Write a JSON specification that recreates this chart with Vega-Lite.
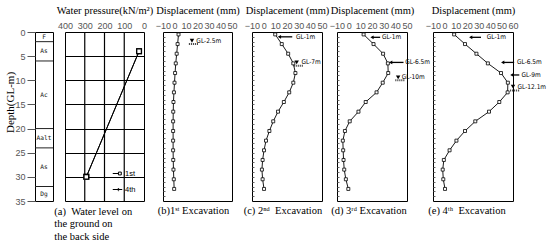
{
  "$schema": "https://vega.github.io/schema/vega-lite/v6.json",
  "padding": {"left": 3, "top": 4, "right": 0, "bottom": 2},
  "datasets": {
    "soil": [
      {"layer": "F", "top": 0, "bottom": 2},
      {"layer": "As", "top": 2, "bottom": 6},
      {"layer": "Ac", "top": 6, "bottom": 20},
      {"layer": "Aalt", "top": 20, "bottom": 24},
      {"layer": "As", "top": 24, "bottom": 32},
      {"layer": "Dg", "top": 32, "bottom": 35}
    ],
    "pgrid": [{"pressure": 100}, {"pressure": 200}, {"pressure": 300}],
    "pressure": [
      {"series": "1st", "depth": 4, "pressure": 25},
      {"series": "1st", "depth": 30, "pressure": 292},
      {"series": "4th", "depth": 4, "pressure": 25},
      {"series": "4th", "depth": 30, "pressure": 292}
    ],
    "disp": [
      {"panel": "b", "depth": 0.5, "disp": 3.5}, {"panel": "b", "depth": 2.5, "disp": 2.7}, {"panel": "b", "depth": 4.5, "disp": 1.9}, {"panel": "b", "depth": 6.5, "disp": 1.1}, {"panel": "b", "depth": 8.5, "disp": 0.5}, {"panel": "b", "depth": 10.5, "disp": 0}, {"panel": "b", "depth": 12.5, "disp": -0.5}, {"panel": "b", "depth": 14.5, "disp": -0.9}, {"panel": "b", "depth": 16.5, "disp": -1.1}, {"panel": "b", "depth": 18.5, "disp": -1.2}, {"panel": "b", "depth": 20.5, "disp": -1.2}, {"panel": "b", "depth": 22.5, "disp": -1.2}, {"panel": "b", "depth": 24.5, "disp": -1.2}, {"panel": "b", "depth": 26.5, "disp": -1.1}, {"panel": "b", "depth": 28.5, "disp": -0.9}, {"panel": "b", "depth": 30.5, "disp": -0.6}, {"panel": "b", "depth": 32.5, "disp": -0.3},
      {"panel": "c", "depth": 0.5, "disp": 9.9}, {"panel": "c", "depth": 2.5, "disp": 15.5}, {"panel": "c", "depth": 4.5, "disp": 21}, {"panel": "c", "depth": 6.5, "disp": 25.4}, {"panel": "c", "depth": 8.5, "disp": 27.2}, {"panel": "c", "depth": 10.5, "disp": 25.4}, {"panel": "c", "depth": 12.5, "disp": 21.9}, {"panel": "c", "depth": 14.5, "disp": 17.3}, {"panel": "c", "depth": 16.5, "disp": 12.3}, {"panel": "c", "depth": 18.5, "disp": 8.2}, {"panel": "c", "depth": 20.5, "disp": 4.9}, {"panel": "c", "depth": 22.5, "disp": 2}, {"panel": "c", "depth": 24.5, "disp": 0.3}, {"panel": "c", "depth": 26.5, "disp": -0.9}, {"panel": "c", "depth": 28.5, "disp": -1.5}, {"panel": "c", "depth": 30.5, "disp": -0.9}, {"panel": "c", "depth": 32.5, "disp": 0.3},
      {"panel": "d", "depth": 0.5, "disp": 12.8}, {"panel": "d", "depth": 2.5, "disp": 21.3}, {"panel": "d", "depth": 4.5, "disp": 29.5}, {"panel": "d", "depth": 6.5, "disp": 33.6}, {"panel": "d", "depth": 8.5, "disp": 33.9}, {"panel": "d", "depth": 10.5, "disp": 29.2}, {"panel": "d", "depth": 12.5, "disp": 23.9}, {"panel": "d", "depth": 14.5, "disp": 14.6}, {"panel": "d", "depth": 16.5, "disp": 8.4}, {"panel": "d", "depth": 18.5, "disp": 0.9}, {"panel": "d", "depth": 20.5, "disp": -3.2}, {"panel": "d", "depth": 22.5, "disp": -5}, {"panel": "d", "depth": 24.5, "disp": -4.7}, {"panel": "d", "depth": 26.5, "disp": -4.4}, {"panel": "d", "depth": 28.5, "disp": -3.8}, {"panel": "d", "depth": 30.5, "disp": -2.4}, {"panel": "d", "depth": 32.5, "disp": -0.3},
      {"panel": "e", "depth": 0.5, "disp": 8.5}, {"panel": "e", "depth": 2.5, "disp": 18}, {"panel": "e", "depth": 4.5, "disp": 28}, {"panel": "e", "depth": 6.5, "disp": 38}, {"panel": "e", "depth": 8.5, "disp": 49.5}, {"panel": "e", "depth": 10.5, "disp": 55.5}, {"panel": "e", "depth": 12.5, "disp": 55.3}, {"panel": "e", "depth": 14.5, "disp": 48}, {"panel": "e", "depth": 16.5, "disp": 39}, {"panel": "e", "depth": 18.5, "disp": 27}, {"panel": "e", "depth": 20.5, "disp": 18}, {"panel": "e", "depth": 22.5, "disp": 10.5}, {"panel": "e", "depth": 24.5, "disp": 4.5}, {"panel": "e", "depth": 26.5, "disp": -0.5}, {"panel": "e", "depth": 28.5, "disp": -1.5}, {"panel": "e", "depth": 30.5, "disp": -1}, {"panel": "e", "depth": 32.5, "disp": 0.5}
    ],
    "arrows": [
      {"panel": "c", "depth": 1.0, "tip": 13.5, "tail": 24.5},
      {"panel": "d", "depth": 1.1, "tip": 20, "tail": 27},
      {"panel": "d", "depth": 6.3, "tip": 36, "tail": 47},
      {"panel": "e", "depth": 1.1, "tip": 23, "tail": 32},
      {"panel": "e", "depth": 6.3, "tip": 51, "tail": 61},
      {"panel": "e", "depth": 8.9, "tip": 59, "tail": 65.5}
    ],
    "levels": [
      {"panel": "b", "depth": 2.5, "tri": 1.8, "at": 15.2, "h1": 12.5, "h2": 21},
      {"panel": "c", "depth": 7, "tri": 6.3, "at": 28.3, "h1": 25.8, "h2": 34},
      {"panel": "d", "depth": 10, "tri": 9.4, "at": 42.4, "h1": 40, "h2": 48},
      {"panel": "e", "depth": 12.1, "tri": 11.3, "at": 60, "h1": 57.5, "h2": 66}
    ],
    "labels": [
      {"panel": "b", "depth": 1.8, "x": 19, "text": "GL-2.5m"},
      {"panel": "c", "depth": 1.0, "x": 27.7, "text": "GL-1m"},
      {"panel": "c", "depth": 6.3, "x": 32.5, "text": "GL-7m"},
      {"panel": "d", "depth": 1.1, "x": 28.5, "text": "GL-1m"},
      {"panel": "d", "depth": 6.3, "x": 48.5, "text": "GL-6.5m"},
      {"panel": "d", "depth": 9.4, "x": 45.5, "text": "GL-10m"},
      {"panel": "e", "depth": 1.1, "x": 37, "text": "GL-1m"},
      {"panel": "e", "depth": 6.3, "x": 63.5, "text": "GL-6.5m"},
      {"panel": "e", "depth": 8.9, "x": 67.5, "text": "GL-9m"},
      {"panel": "e", "depth": 11.3, "x": 64, "text": "GL-12.1m"}
    ]
  },
  "spacing": 0,
  "bounds": "flush",
  "resolve": {"scale": {"shape": "independent"}, "legend": {"shape": "independent"}},
  "hconcat": [
    {
      "width": 18, "height": 169,
      "data": {"name": "soil"},
      "layer": [
        {
          "transform": [{"filter": "datum.bottom < 35"}],
          "mark": {"type": "rule", "color": "#222", "strokeWidth": 1},
          "encoding": {
            "y": {"field": "bottom", "type": "quantitative",
              "scale": {"domain": [0, 35], "reverse": true, "nice": false, "zero": false},
              "axis": {"title": "Depth(GL-m)", "values": [0, 5, 10, 15, 20, 25, 30, 35], "format": "d", "tickCount": 50, "ticks": true, "tickSize": 8, "tickColor": "#555", "labelPadding": 2, "labelFlush": false, "labelOverlap": false, "titleFontSize": 11, "titleX": -20, "titleY": 70}}
          }
        },
        {
          "transform": [{"calculate": "(datum.top + datum.bottom) / 2", "as": "mid"}],
          "mark": {"type": "text", "font": "DejaVu Sans Mono", "fontSize": 6.2, "color": "#111"},
          "encoding": {
            "y": {"field": "mid", "type": "quantitative"},
            "text": {"field": "layer"}
          }
        }
      ]
    },
    {"width": 12, "height": 169, "view": {"stroke": null}, "data": {"values": [{}]}, "mark": {"type": "point", "opacity": 0}, "encoding": {}},
    {
      "width": 79, "height": 169,
      "title": {"text": ["(a)\u00a0\u00a0Water level on", "\u00a0\u00a0\u00a0\u00a0\u00a0\u00a0the ground on", "\u00a0\u00a0\u00a0\u00a0\u00a0\u00a0the back side"], "anchor": "start", "dx": -2},
      "layer": [
        {
          "data": {"name": "pgrid"},
          "mark": {"type": "rule", "color": "black", "strokeWidth": 1.2},
          "encoding": {
            "x": {"field": "pressure", "type": "quantitative",
              "scale": {"domain": [0, 400], "reverse": true, "nice": false, "zero": false},
              "axis": {"orient": "top", "title": "Water pressure(kN/m²)", "values": [0, 100, 200, 300, 400], "format": "d", "tickCount": 50, "labelFlush": false, "labelOverlap": false}},
            "y": {"datum": 0, "type": "quantitative"},
            "y2": {"datum": 35}
          }
        },
        {
          "data": {"name": "pressure"},
          "mark": {"type": "line", "color": "black", "strokeWidth": 1},
          "encoding": {
            "x": {"field": "pressure", "type": "quantitative"},
            "y": {"field": "depth", "type": "quantitative",
              "scale": {"domain": [0, 35], "reverse": true, "nice": false, "zero": false},
              "axis": {"title": null, "labels": false, "grid": true, "gridColor": "black", "gridWidth": 1, "values": [5, 10, 15, 20, 25, 30], "tickCount": 50}},
            "detail": {"field": "series"},
            "order": {"field": "depth"}
          }
        },
        {
          "data": {"name": "pressure"},
          "mark": {"type": "point", "shape": "square", "filled": true, "fill": "white", "stroke": "black", "strokeWidth": 1.3, "size": 22, "opacity": 1},
          "encoding": {
            "x": {"field": "pressure", "type": "quantitative"},
            "y": {"field": "depth", "type": "quantitative"}
          }
        },
        {
          "data": {"name": "pressure"},
          "mark": {"type": "point", "filled": false, "stroke": "black", "strokeWidth": 1, "opacity": 0},
          "encoding": {
            "x": {"field": "pressure", "type": "quantitative"},
            "y": {"field": "depth", "type": "quantitative"},
            "shape": {"field": "series", "type": "nominal",
              "scale": {"domain": ["1st", "4th"], "range": ["M-1,0H0.2M0.2,-0.3H0.8V0.3H0.2Z", "M-1,0H1M0.2,-0.25L0.45,0L0.2,0.25L-0.05,0Z"]},
              "legend": {"orient": "bottom-right", "title": null, "offset": 8, "padding": 0, "labelFont": "Liberation Sans", "labelFontSize": 7.5, "labelColor": "black", "labelOffset": 2, "symbolSize": 90, "symbolStrokeWidth": 1, "symbolOpacity": 1, "symbolStrokeColor": "black", "rowPadding": 7}}
          }
        }
      ]
    },
    {"width": 19, "height": 169, "view": {"stroke": null}, "data": {"values": [{}]}, "mark": {"type": "point", "opacity": 0}, "encoding": {}},
    {
      "width": 69, "height": 169,
      "title": {"text": "(b)1ˢᵗ Excavation", "dx": -4},
      "layer": [
        {
          "data": {"name": "disp"}, "transform": [{"filter": "datum.panel === 'b'"}],
          "mark": {"type": "line", "color": "black", "strokeWidth": 0.9, "point": {"shape": "square", "filled": true, "fill": "white", "stroke": "black", "strokeWidth": 0.8, "size": 9}},
          "encoding": {
            "x": {"field": "disp", "type": "quantitative", "scale": {"domain": [-10, 50], "nice": false, "zero": false},
              "axis": {"orient": "top", "title": "Displacement (mm)", "values": [-10, 0, 10, 20, 30, 40, 50], "format": "d", "tickCount": 50, "labelFlush": false, "labelOverlap": false}},
            "y": {"field": "depth", "type": "quantitative", "scale": {"domain": [0, 35], "reverse": true, "nice": false, "zero": false},
              "axis": {"title": null, "labels": false, "ticks": true, "tickSize": -2, "tickColor": "#666", "tickCount": 50, "values": [1,2,3,4,5,6,7,8,9,10,11,12,13,14,15,16,17,18,19,20,21,22,23,24,25,26,27,28,29,30,31,32,33,34]}},
            "order": {"field": "depth"}
          }
        },
        {
          "data": {"name": "levels"}, "transform": [{"filter": "datum.panel === 'b'"}],
          "mark": {"type": "point", "shape": "triangle-down", "filled": true, "color": "black", "size": 20, "opacity": 1},
          "encoding": {"x": {"field": "at", "type": "quantitative"}, "y": {"field": "tri", "type": "quantitative"}}
        },
        {
          "data": {"name": "levels"}, "transform": [{"filter": "datum.panel === 'b'"}],
          "mark": {"type": "rule", "strokeWidth": 2, "strokeDash": [1, 1], "color": "#333"},
          "encoding": {"x": {"field": "h1", "type": "quantitative"}, "x2": {"field": "h2"}, "y": {"field": "depth", "type": "quantitative"}}
        },
        {
          "data": {"name": "labels"}, "transform": [{"filter": "datum.panel === 'b'"}],
          "mark": {"type": "text", "align": "left", "baseline": "middle", "font": "Liberation Sans Narrow, DejaVu Sans Condensed, Liberation Sans", "fontSize": 6.5, "color": "black"},
          "encoding": {"x": {"field": "x", "type": "quantitative"}, "y": {"field": "depth", "type": "quantitative"}, "text": {"field": "text"}}
        }
      ]
    },
    {"width": 20, "height": 169, "view": {"stroke": null}, "data": {"values": [{}]}, "mark": {"type": "point", "opacity": 0}, "encoding": {}},
    {
      "width": 70, "height": 169,
      "title": {"text": "(c) 2ⁿᵈ\u00a0\u00a0Excavation", "dx": -4},
      "layer": [
        {
          "data": {"name": "disp"}, "transform": [{"filter": "datum.panel === 'c'"}],
          "mark": {"type": "line", "color": "black", "strokeWidth": 0.9, "point": {"shape": "square", "filled": true, "fill": "white", "stroke": "black", "strokeWidth": 0.8, "size": 9}},
          "encoding": {
            "x": {"field": "disp", "type": "quantitative", "scale": {"domain": [-10, 50], "nice": false, "zero": false},
              "axis": {"orient": "top", "title": "Displacement (mm)", "values": [-10, 0, 10, 20, 30, 40, 50], "format": "d", "tickCount": 50, "labelFlush": false, "labelOverlap": false}},
            "y": {"field": "depth", "type": "quantitative", "scale": {"domain": [0, 35], "reverse": true, "nice": false, "zero": false},
              "axis": {"title": null, "labels": false, "ticks": true, "tickSize": -2, "tickColor": "#666", "tickCount": 50, "values": [1,2,3,4,5,6,7,8,9,10,11,12,13,14,15,16,17,18,19,20,21,22,23,24,25,26,27,28,29,30,31,32,33,34]}},
            "order": {"field": "depth"}
          }
        },
        {
          "data": {"name": "arrows"}, "transform": [{"filter": "datum.panel === 'c'"}],
          "mark": {"type": "rule", "color": "black", "strokeWidth": 1.3},
          "encoding": {"x": {"field": "tip", "type": "quantitative"}, "x2": {"field": "tail"}, "y": {"field": "depth", "type": "quantitative"}}
        },
        {
          "data": {"name": "arrows"}, "transform": [{"filter": "datum.panel === 'c'"}],
          "mark": {"type": "point", "shape": "triangle-left", "filled": true, "color": "black", "size": 14, "opacity": 1},
          "encoding": {"x": {"field": "tip", "type": "quantitative"}, "y": {"field": "depth", "type": "quantitative"}}
        },
        {
          "data": {"name": "levels"}, "transform": [{"filter": "datum.panel === 'c'"}],
          "mark": {"type": "point", "shape": "triangle-down", "filled": true, "color": "black", "size": 20, "opacity": 1},
          "encoding": {"x": {"field": "at", "type": "quantitative"}, "y": {"field": "tri", "type": "quantitative"}}
        },
        {
          "data": {"name": "levels"}, "transform": [{"filter": "datum.panel === 'c'"}],
          "mark": {"type": "rule", "strokeWidth": 2, "strokeDash": [1, 1], "color": "#333"},
          "encoding": {"x": {"field": "h1", "type": "quantitative"}, "x2": {"field": "h2"}, "y": {"field": "depth", "type": "quantitative"}}
        },
        {
          "data": {"name": "labels"}, "transform": [{"filter": "datum.panel === 'c'"}],
          "mark": {"type": "text", "align": "left", "baseline": "middle", "font": "Liberation Sans Narrow, DejaVu Sans Condensed, Liberation Sans", "fontSize": 6.5, "color": "black"},
          "encoding": {"x": {"field": "x", "type": "quantitative"}, "y": {"field": "depth", "type": "quantitative"}, "text": {"field": "text"}}
        }
      ]
    },
    {"width": 15, "height": 169, "view": {"stroke": null}, "data": {"values": [{}]}, "mark": {"type": "point", "opacity": 0}, "encoding": {}},
    {
      "width": 70, "height": 169,
      "title": {"text": "(d) 3ʳᵈ Excavation", "dx": -3},
      "layer": [
        {
          "data": {"name": "disp"}, "transform": [{"filter": "datum.panel === 'd'"}],
          "mark": {"type": "line", "color": "black", "strokeWidth": 0.9, "point": {"shape": "square", "filled": true, "fill": "white", "stroke": "black", "strokeWidth": 0.8, "size": 9}},
          "encoding": {
            "x": {"field": "disp", "type": "quantitative", "scale": {"domain": [-10, 50], "nice": false, "zero": false},
              "axis": {"orient": "top", "title": "Displacement (mm)", "values": [-10, 0, 10, 20, 30, 40, 50], "format": "d", "tickCount": 50, "labelFlush": false, "labelOverlap": false}},
            "y": {"field": "depth", "type": "quantitative", "scale": {"domain": [0, 35], "reverse": true, "nice": false, "zero": false},
              "axis": {"title": null, "labels": false, "ticks": true, "tickSize": -2, "tickColor": "#666", "tickCount": 50, "values": [1,2,3,4,5,6,7,8,9,10,11,12,13,14,15,16,17,18,19,20,21,22,23,24,25,26,27,28,29,30,31,32,33,34]}},
            "order": {"field": "depth"}
          }
        },
        {
          "data": {"name": "arrows"}, "transform": [{"filter": "datum.panel === 'd'"}],
          "mark": {"type": "rule", "color": "black", "strokeWidth": 1.3},
          "encoding": {"x": {"field": "tip", "type": "quantitative"}, "x2": {"field": "tail"}, "y": {"field": "depth", "type": "quantitative"}}
        },
        {
          "data": {"name": "arrows"}, "transform": [{"filter": "datum.panel === 'd'"}],
          "mark": {"type": "point", "shape": "triangle-left", "filled": true, "color": "black", "size": 14, "opacity": 1},
          "encoding": {"x": {"field": "tip", "type": "quantitative"}, "y": {"field": "depth", "type": "quantitative"}}
        },
        {
          "data": {"name": "levels"}, "transform": [{"filter": "datum.panel === 'd'"}],
          "mark": {"type": "point", "shape": "triangle-down", "filled": true, "color": "black", "size": 20, "opacity": 1},
          "encoding": {"x": {"field": "at", "type": "quantitative"}, "y": {"field": "tri", "type": "quantitative"}}
        },
        {
          "data": {"name": "levels"}, "transform": [{"filter": "datum.panel === 'd'"}],
          "mark": {"type": "rule", "strokeWidth": 2, "strokeDash": [1, 1], "color": "#333"},
          "encoding": {"x": {"field": "h1", "type": "quantitative"}, "x2": {"field": "h2"}, "y": {"field": "depth", "type": "quantitative"}}
        },
        {
          "data": {"name": "labels"}, "transform": [{"filter": "datum.panel === 'd'"}],
          "mark": {"type": "text", "align": "left", "baseline": "middle", "font": "Liberation Sans Narrow, DejaVu Sans Condensed, Liberation Sans", "fontSize": 6.5, "color": "black"},
          "encoding": {"x": {"field": "x", "type": "quantitative"}, "y": {"field": "depth", "type": "quantitative"}, "text": {"field": "text"}}
        }
      ]
    },
    {"width": 26, "height": 169, "view": {"stroke": null}, "data": {"values": [{}]}, "mark": {"type": "point", "opacity": 0}, "encoding": {}},
    {
      "width": 80, "height": 169,
      "title": {"text": "(e) 4ᵗʰ\u00a0\u00a0Excavation", "dx": -6},
      "layer": [
        {
          "data": {"name": "disp"}, "transform": [{"filter": "datum.panel === 'e'"}],
          "mark": {"type": "line", "color": "black", "strokeWidth": 0.9, "point": {"shape": "square", "filled": true, "fill": "white", "stroke": "black", "strokeWidth": 0.8, "size": 9}},
          "encoding": {
            "x": {"field": "disp", "type": "quantitative", "scale": {"domain": [-10, 60], "nice": false, "zero": false},
              "axis": {"orient": "top", "title": "Displacement (mm)", "values": [-10, 0, 10, 20, 30, 40, 50, 60], "format": "d", "tickCount": 50, "labelFlush": false, "labelOverlap": false}},
            "y": {"field": "depth", "type": "quantitative", "scale": {"domain": [0, 35], "reverse": true, "nice": false, "zero": false},
              "axis": {"title": null, "labels": false, "ticks": true, "tickSize": -2, "tickColor": "#666", "tickCount": 50, "values": [1,2,3,4,5,6,7,8,9,10,11,12,13,14,15,16,17,18,19,20,21,22,23,24,25,26,27,28,29,30,31,32,33,34]}},
            "order": {"field": "depth"}
          }
        },
        {
          "data": {"name": "arrows"}, "transform": [{"filter": "datum.panel === 'e'"}],
          "mark": {"type": "rule", "color": "black", "strokeWidth": 1.3},
          "encoding": {"x": {"field": "tip", "type": "quantitative"}, "x2": {"field": "tail"}, "y": {"field": "depth", "type": "quantitative"}}
        },
        {
          "data": {"name": "arrows"}, "transform": [{"filter": "datum.panel === 'e'"}],
          "mark": {"type": "point", "shape": "triangle-left", "filled": true, "color": "black", "size": 14, "opacity": 1},
          "encoding": {"x": {"field": "tip", "type": "quantitative"}, "y": {"field": "depth", "type": "quantitative"}}
        },
        {
          "data": {"name": "levels"}, "transform": [{"filter": "datum.panel === 'e'"}],
          "mark": {"type": "point", "shape": "triangle-down", "filled": true, "color": "black", "size": 20, "opacity": 1},
          "encoding": {"x": {"field": "at", "type": "quantitative"}, "y": {"field": "tri", "type": "quantitative"}}
        },
        {
          "data": {"name": "levels"}, "transform": [{"filter": "datum.panel === 'e'"}],
          "mark": {"type": "rule", "strokeWidth": 2, "strokeDash": [1, 1], "color": "#333"},
          "encoding": {"x": {"field": "h1", "type": "quantitative"}, "x2": {"field": "h2"}, "y": {"field": "depth", "type": "quantitative"}}
        },
        {
          "data": {"name": "labels"}, "transform": [{"filter": "datum.panel === 'e'"}],
          "mark": {"type": "text", "align": "left", "baseline": "middle", "font": "Liberation Sans Narrow, DejaVu Sans Condensed, Liberation Sans", "fontSize": 6.5, "color": "black"},
          "encoding": {"x": {"field": "x", "type": "quantitative"}, "y": {"field": "depth", "type": "quantitative"}, "text": {"field": "text"}}
        }
      ]
    }
  ],
  "config": {
    "view": {"stroke": "black", "strokeWidth": 1},
    "axis": {"labelFont": "Liberation Sans", "labelFontSize": 9, "labelColor": "#555", "titleFont": "Liberation Serif", "titleFontSize": 10.5, "titleFontWeight": "normal", "titleColor": "black", "domain": false, "ticks": false, "grid": false, "labelPadding": 2, "titlePadding": 6},
    "title": {"font": "Liberation Serif", "fontSize": 10.5, "fontWeight": "normal", "orient": "bottom", "offset": 5, "color": "black", "anchor": "middle", "lineHeight": 12.5}
  }
}
